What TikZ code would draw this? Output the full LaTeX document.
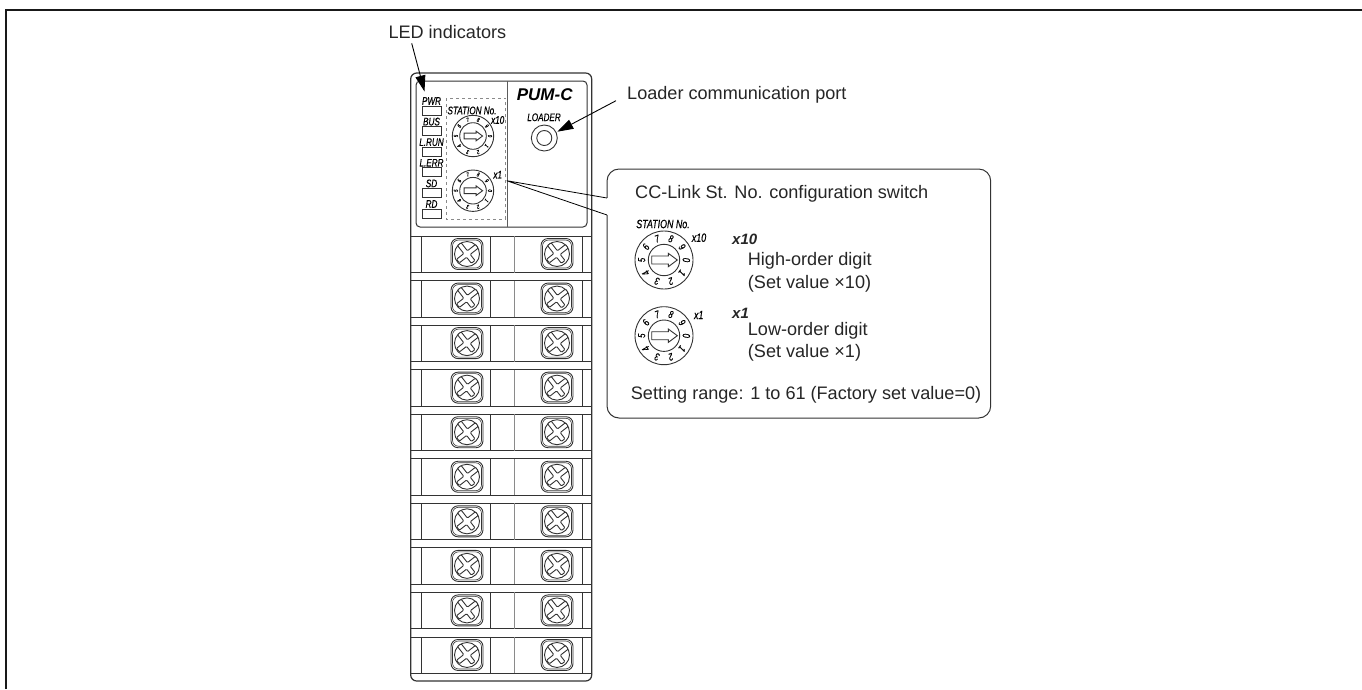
\documentclass[tikz,border=0pt]{standalone}
\usepackage{fontspec}
\setmainfont{Liberation Sans}
\newfontfamily\narrowfont[FakeStretch=0.74,FakeBold=0.5]{Liberation Sans}
\usetikzlibrary{arrows.meta}
\definecolor{lineink}{HTML}{333333}
\definecolor{dashink}{HTML}{8A8A8A}
\tikzset{
  plate/.style={draw=lineink, line width=1pt},
  thinline/.style={draw=lineink, line width=0.9pt},
  leader/.style={draw=black, line width=0.9pt, -{Triangle[length=16pt, width=10pt]}},
  calltext/.style={font=\fontsize{18.1}{20}\selectfont, anchor=west, inner sep=0pt, text=black!85},
  tag/.style={font=\narrowfont\itshape\fontsize{11}{12}\selectfont, inner sep=0pt, text=black},
  bigtag/.style={font=\narrowfont\itshape\fontsize{12}{13}\selectfont, inner sep=0pt, text=black},
}
% rotary switch: centre x, centre y, outer radius, inner radius, arrow scale, name
\newcommand{\dialswitch}[6]{
  \begin{scope}[shift={(#1,#2)}]
    \draw[thinline] (0,0) circle (#3);
    \draw[thinline] (0,0) circle (#4);
    \draw[thinline] ({-12.3*#5},{-4*#5}) -- ({4.3*#5},{-4*#5}) -- ({4.3*#5},{-6.7*#5})
      -- ({13.3*#5},0) -- ({4.3*#5},{6.7*#5}) -- ({4.3*#5},{4*#5}) -- ({-12.3*#5},{4*#5}) -- cycle;
    \pgfmathsetmacro{\dsize}{(#3-#4)*0.78}
    \pgfmathsetmacro{\drad}{(#3+#4)/2}
    \foreach \digit in {0,...,9} {
      \pgfmathsetmacro{\ang}{36*\digit}
      \node (#6d\digit) at (\ang:\drad) [inner sep=0pt, rotate=-\ang-90,
        font=\narrowfont\itshape\fontsize{\dsize}{\dsize}\selectfont] {\digit};
    }
  \end{scope}
}
% terminal screw: centre x, centre y
\newcommand{\termscrew}[2]{
  \begin{scope}[shift={(#1,#2)}]
    \draw[thinline, rounded corners=7pt] (-16,-15.5) rectangle (16,15.5);
    \draw[draw=lineink, line width=0.6pt, rounded corners=6pt] (-14.5,-14) rectangle (14.5,14);
    \draw[thinline] (0,0) circle (12.5);
    \begin{scope}[rotate=38]
      \draw[thinline, fill=white, rounded corners=1pt]
        (-2.3,-12.5) -- (-2.3,-2.3) -- (-11.5,-2.3) -- (-11.5,2.3) -- (-2.3,2.3) -- (-2.3,10)
        -- (2.3,10) -- (2.3,2.3) -- (12.5,2.3) -- (12.5,-2.3) -- (2.3,-2.3) -- (2.3,-12.5) -- cycle;
    \end{scope}
  \end{scope}
}
\begin{document}
\begin{tikzpicture}[x=1pt, y=-1pt]
\useasboundingbox (0,0) rectangle (1362,689);
% page frame
\draw[black!90, line width=2.6pt] (6,689) -- (6,10) -- (1362,10);
% module body
\draw[plate, line width=1.2pt, rounded corners=6pt] (410.7,73) rectangle (591.7,681);
\draw[plate, rounded corners=4pt] (416,81) rectangle (587,227);
\draw[draw=lineink!80, line width=1pt] (507,81) -- (507,227);
% terminal rows
\foreach \row in {0,...,9} {
  \pgfmathsetmacro{\rowy}{236+44.55*\row}
  \draw[thinline] (410.7,\rowy) -- (591.7,\rowy);
  \draw[thinline] (410.7,\rowy+36.5) -- (591.7,\rowy+36.5);
  \foreach \colx in {421.7,490.3,582.7}
    \draw[thinline] (\colx,\rowy) -- (\colx,\rowy+36.5);
  \draw[draw=dashink, line width=0.8pt] (514,\rowy) -- (514,\rowy+36.5);
  \termscrew{467}{\rowy+18}
  \termscrew{557}{\rowy+18}
}
% LED boxes
\foreach \ledname/\ledy in {PWR/106,BUS/126.6,L.RUN/147.2,L.ERR/167.8,SD/188.4,RD/209} {
  \draw[thinline] (422.3,\ledy) rectangle (441.7,\ledy+9);
  \node[tag] (led\ledname) at (431.5,\ledy-5) {\ledname};
}
% switch area
\draw[draw=dashink, line width=0.8pt, dashed] (446,98.3) rectangle (505.7,219);
\node[tag] (stationa) at (472,110.5) {STATION No.};
\node[tag] (xtena) at (497.7,120) {x10};
\node[tag] (xonea) at (497.7,174.7) {x1};
\dialswitch{473}{136}{20.7}{13.3}{0.72}{da}
\dialswitch{473}{190.7}{20.7}{13.3}{0.72}{db}
% loader port
\node[font=\bfseries\itshape\fontsize{17}{18}\selectfont, inner sep=0pt] (pumc) at (544.7,95) {PUM-C};
\node[tag] (loader) at (544,117.3) {LOADER};
\draw[thinline] (544.3,138) circle (13);
\draw[thinline] (544.3,138) circle (7.5);
% labels and leaders
\node[calltext] (ledlabel) at (388.3,32) {LED indicators};
\node[calltext] (portlabel) at (627,95) {Loader communication port};
\coordinate (ledtip) at (424.5,91.5);
\coordinate (porttip) at (557.3,131.7);
\coordinate (ledstart) at (411.7,43.3);
\coordinate (portstart) at (616,100.7);
\draw[leader] (ledstart) -- (ledtip);
\draw[leader] (portstart) -- (porttip);
% callout
\coordinate (tailtip) at (506.7,180.7);
\draw[plate, fill=white, rounded corners=12pt] (607,169) rectangle (990.7,418);
\fill[white] (606,198) rectangle (608.5,215);
\draw[black, line width=0.8pt] (607,198) -- (tailtip) -- (607,215);
\node[bigtag] (stationb) at (663,224) {STATION No.};
\node[bigtag] (xtenb) at (699,237.7) {x10};
\node[bigtag] (xoneb) at (698.7,315) {x1};
\dialswitch{664}{260}{29}{15.7}{1}{dc}
\dialswitch{664}{335.7}{29}{15.7}{1}{dd}
\node[calltext] (calltitle) at (635,194) {CC-Link St. No. configuration switch};
\node[calltext, font=\bfseries\itshape\fontsize{15}{16}\selectfont] (xtenc) at (732,239) {x10};
\node[calltext, font=\bfseries\itshape\fontsize{15}{16}\selectfont] (xonec) at (732,313) {x1};
\node[calltext] (hightext) at (747.7,260.7) {High-order digit};
\node[calltext] (highset) at (747.7,284) {(Set value ×10)};
\node[calltext] (lowtext) at (747.7,331) {Low-order digit};
\node[calltext] (lowset) at (747.7,353) {(Set value ×1)};
\node[calltext] (rangetext) at (630.7,395) {Setting range: 1 to 61 (Factory set value=0)};
\end{tikzpicture}
\end{document}
